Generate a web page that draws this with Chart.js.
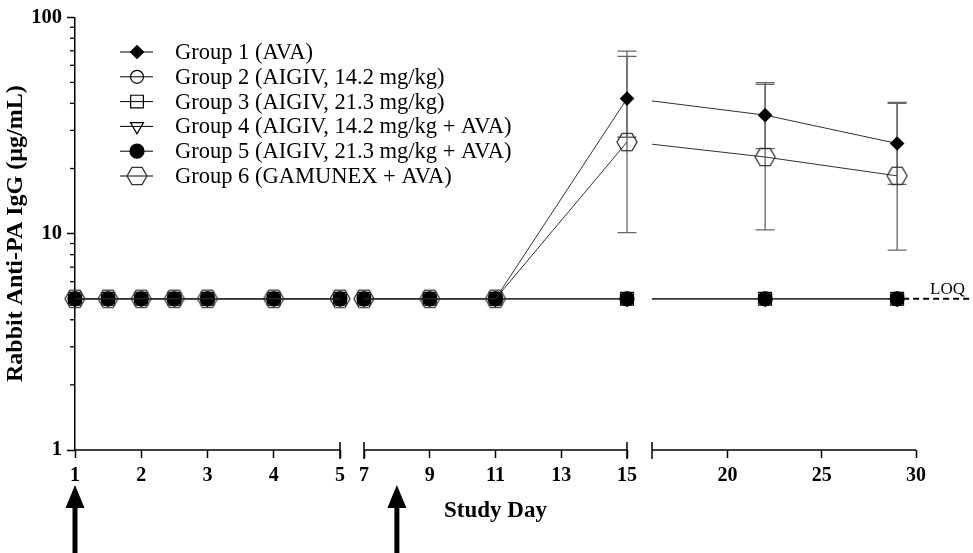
<!DOCTYPE html>
<html><head><meta charset="utf-8">
<script src="https://cdn.jsdelivr.net/npm/chart.js@4.4.1/dist/chart.umd.min.js"></script>
<style>html,body{margin:0;padding:0;background:#fff}</style>
</head><body>
<canvas id="c" width="973" height="553"></canvas>
<script>
// ---------- data ----------
const days   = [1, 1.5, 2, 2.5, 3, 4, 5, 7, 9, 11, 15, 22, 29];
const group1 = [5, 5, 5, 5, 5, 5, 5, 5, 5, 5, 42.1, 35.3, 26.1];
const group2 = [5, 5, 5, 5, 5, 5, 5, 5, 5, 5, 5, 5, 5];
const group3 = [5, 5, 5, 5, 5, 5, 5, 5, 5, 5, 5, 5, 5];
const group4 = [5, 5, 5, 5, 5, 5, 5, 5, 5, 5, 5, 5, 5];
const group5 = [5, 5, 5, 5, 5, 5, 5, 5, 5, 5, 5, 5, 5];
const group6 = [5, 5, 5, 5, 5, 5, 5, 5, 5, 5, 26.5, 22.6, 18.5];
const group1Low  = [null, null, null, null, null, null, null, null, null, null, 27.9, 24.7, 16.9];
const group1High = [null, null, null, null, null, null, null, null, null, null, 66.0, 49.9, 40.4];
const group6Low  = [null, null, null, null, null, null, null, null, null, null, 10.1, 10.4, 8.4];
const group6High = [null, null, null, null, null, null, null, null, null, null, 69.7, 49.0, 40.0];
const groupNames = [
  'Group 1 (AVA)',
  'Group 2 (AIGIV, 14.2 mg/kg)',
  'Group 3 (AIGIV, 21.3 mg/kg)',
  'Group 4 (AIGIV, 14.2 mg/kg + AVA)',
  'Group 5 (AIGIV, 21.3 mg/kg + AVA)',
  'Group 6 (GAMUNEX + AVA)'
];
const segments = [[1, 5], [7, 15], [16, 30]];
const xTicks = [[1, 2, 3, 4, 5], [7, 9, 11, 13, 15], [20, 25, 30]];
const yTicks = [1, 10, 100];
const arrowDays = [1, 8];
const loqValue = 5;
const loqLabel = 'LOQ';
const xTitle = 'Study Day';
const yTitle = 'Rabbit Anti-PA IgG (\u00b5g/mL)';

// ---------- layout (pixels) ----------
const SERIF = "'Liberation Serif', 'Times New Roman', serif";
const segPx = [[75, 340], [364, 627], [652, 916]];
const bounds = [75, 352, 639.5, 930];

function hexCanvas(R, lw, color) {
  const s = 2 * Math.ceil(R + lw + 1);
  const c = document.createElement('canvas');
  c.width = s; c.height = s;
  const g = c.getContext('2d');
  g.strokeStyle = color; g.lineWidth = lw;
  g.beginPath();
  for (let k = 0; k < 6; k++) {
    const a = k * Math.PI / 3;
    const px = s / 2 + R * Math.cos(a), py = s / 2 + R * Math.sin(a);
    if (k) g.lineTo(px, py); else g.moveTo(px, py);
  }
  g.closePath(); g.stroke();
  return c;
}
const hexImg = hexCanvas(10, 1.3, '#333');

const groups = [group1, group2, group3, group4, group5, group6];
const styles = [
  {pointStyle: 'rectRot', radius: 6.5, fill: '#000', rot: 0},
  {pointStyle: 'circle', radius: 6.5, fill: 'rgba(0,0,0,0)', rot: 0},
  {pointStyle: 'rect', radius: 9, fill: 'rgba(0,0,0,0)', rot: 0},
  {pointStyle: 'triangle', radius: 7.5, fill: 'rgba(0,0,0,0)', rot: 180},
  {pointStyle: 'circle', radius: 7, fill: '#000', rot: 0},
  {pointStyle: hexImg, radius: 10, fill: 'rgba(0,0,0,0)', rot: 0}
];
const drawOrder = [5, 4, 2, 3, 1, 0]; // first = on top

const datasets = [];
drawOrder.forEach((g) => {
  segments.forEach((seg, s) => {
    const pts = [];
    days.forEach((d, i) => {
      if (d >= seg[0] && d <= seg[1]) pts.push({x: d, y: groups[g][i]});
    });
    if (s === 2) {
      let prev = -1;
      days.forEach((d, i) => { if (d < seg[0]) prev = i; });
      if (prev >= 0) pts.unshift({x: days[prev], y: groups[g][prev]});
    }
    const st = styles[g];
    datasets.push({
      label: groupNames[g],
      data: pts,
      xAxisID: 'x' + s,
      yAxisID: 'y',
      borderColor: '#333',
      borderWidth: 1,
      pointStyle: st.pointStyle,
      pointRadius: st.radius,
      pointRotation: st.rot,
      pointBackgroundColor: st.fill,
      pointBorderColor: '#000',
      pointBorderWidth: 1.2,
      fill: false,
      tension: 0,
      clip: false,
      segClip: s === 2
    });
  });
});

function segAxis(s) {
  const [a, b] = segments[s];
  const [pa, pb] = segPx[s];
  const ppd = (pb - pa) / (b - a);
  const min = a - (pa - bounds[s]) / ppd;
  const max = b + (bounds[s + 1] - pb) / ppd;
  return {
    type: 'linear',
    position: 'bottom',
    stack: 'xs',
    stackWeight: bounds[s + 1] - bounds[s],
    min, max,
    afterBuildTicks: (sc) => { sc.ticks = xTicks[s].map(v => ({value: v})); },
    afterFit: (sc) => { sc.height = 103; },
    border: {display: false},
    grid: {drawOnChartArea: false, drawTicks: true, tickLength: 8, tickColor: '#000', tickWidth: 1.5},
    ticks: {
      autoSkip: false, maxRotation: 0, padding: 6, color: '#000',
      font: {family: SERIF, size: 20, weight: 'bold'},
      callback: (v) => String(v)
    }
  };
}

function segOf(d) {
  for (let s = 0; s < segments.length; s++) if (d >= segments[s][0] && d <= segments[s][1]) return s;
  return -1;
}

const errorSets = [[group1Low, group1High], [group6Low, group6High]];

const custom = {
  id: 'custom',
  beforeDatasetDraw(chart, args) {
    const ds = chart.data.datasets[args.index];
    if (ds.segClip) {
      const sc = chart.scales[ds.xAxisID];
      const ctx = chart.ctx;
      ctx.save();
      ctx.beginPath();
      ctx.rect(sc.getPixelForValue(segments[2][0]), 0, chart.width, chart.height);
      ctx.clip();
    }
  },
  afterDatasetDraw(chart, args) {
    const ds = chart.data.datasets[args.index];
    if (ds.segClip) chart.ctx.restore();
  },
  beforeDatasetsDraw(chart) {
    const ctx = chart.ctx, y = chart.scales.y;
    const lastDay = days[days.length - 1];
    const s3 = chart.scales['x' + segOf(lastDay)];
    const yl = y.getPixelForValue(loqValue);
    ctx.save();
    ctx.strokeStyle = '#000'; ctx.lineWidth = 2; ctx.setLineDash([6, 4]);
    ctx.beginPath(); ctx.moveTo(s3.getPixelForValue(lastDay) + 6, yl); ctx.lineTo(chart.width, yl); ctx.stroke();
    ctx.restore();
    ctx.save();
    ctx.fillStyle = '#000'; ctx.font = '17px ' + SERIF; ctx.textBaseline = 'alphabetic'; ctx.textAlign = 'left';
    ctx.fillText(loqLabel, 930, yl - 5);
    ctx.restore();
    ctx.save();
    ctx.strokeStyle = '#666'; ctx.lineWidth = 1.3;
    errorSets.forEach(([lo, hi]) => {
      days.forEach((d, i) => {
        if (lo[i] == null || hi[i] == null) return;
        const sc = chart.scales['x' + segOf(d)];
        const x = sc.getPixelForValue(d);
        const y1 = y.getPixelForValue(lo[i]), y2 = y.getPixelForValue(hi[i]);
        ctx.beginPath();
        ctx.moveTo(x, y1); ctx.lineTo(x, y2);
        ctx.moveTo(x - 9.5, y1); ctx.lineTo(x + 9.5, y1);
        ctx.moveTo(x - 9.5, y2); ctx.lineTo(x + 9.5, y2);
        ctx.stroke();
      });
    });
    ctx.restore();
  },
  afterDraw(chart) {
    const ctx = chart.ctx, y = chart.scales.y;
    const base = chart.chartArea.bottom;
    ctx.save();
    ctx.strokeStyle = '#000'; ctx.lineWidth = 1.5;
    segments.forEach((seg, s) => {
      const sc = chart.scales['x' + s];
      const p0 = sc.getPixelForValue(seg[0]), p1 = sc.getPixelForValue(seg[1]);
      ctx.beginPath(); ctx.moveTo(p0, base); ctx.lineTo(p1, base); ctx.stroke();
      ctx.beginPath();
      if (s > 0) { ctx.moveTo(p0, base - 8); ctx.lineTo(p0, base + 9); }
      if (s < segments.length - 1) { ctx.moveTo(p1, base - 8); ctx.lineTo(p1, base + 9); }
      ctx.stroke();
    });
    ctx.lineWidth = 1.3;
    y.ticks.forEach(t => {
      if (yTicks.includes(t.value)) return;
      const py = y.getPixelForValue(t.value);
      ctx.beginPath(); ctx.moveTo(chart.chartArea.left - 5, py); ctx.lineTo(chart.chartArea.left, py); ctx.stroke();
    });
    ctx.restore();
    ctx.save();
    ctx.fillStyle = '#000'; ctx.font = 'bold 23px ' + SERIF; ctx.textAlign = 'center'; ctx.textBaseline = 'middle';
    const xl = chart.scales.x0.getPixelForValue(segments[0][0]);
    const xr = chart.scales.x2.getPixelForValue(segments[2][1]);
    ctx.fillText(xTitle, (xl + xr) / 2, 511);
    ctx.restore();
    ctx.save();
    ctx.fillStyle = '#000';
    arrowDays.forEach(d => {
      const x = chart.scales['x' + Math.max(0, segOf(d))].getPixelForValue(d);
      ctx.beginPath();
      ctx.moveTo(x, 485); ctx.lineTo(x + 9.5, 508); ctx.lineTo(x - 9.5, 508); ctx.closePath(); ctx.fill();
      ctx.fillRect(x - 2.5, 506, 5, chart.height - 506);
    });
    ctx.restore();
    ctx.save();
    const H = Chart.helpers;
    groupNames.forEach((name, g) => {
      const ry = 52 + g * 24.8;
      ctx.strokeStyle = '#000'; ctx.lineWidth = 1;
      ctx.beginPath(); ctx.moveTo(120, ry); ctx.lineTo(153, ry); ctx.stroke();
      const st = styles[g];
      ctx.fillStyle = st.fill; ctx.strokeStyle = '#000'; ctx.lineWidth = 1.2;
      if (H && H.drawPoint) {
        H.drawPoint(ctx, {pointStyle: st.pointStyle, radius: st.radius, rotation: st.rot, borderWidth: 1.2}, 137, ry);
      }
      ctx.fillStyle = '#000'; ctx.font = '22.5px ' + SERIF; ctx.textAlign = 'left'; ctx.textBaseline = 'middle';
      ctx.fillText(name, 175, ry + 1);
    });
    ctx.restore();
  }
};

const scales = {
  y: {
    type: 'logarithmic',
    position: 'left',
    min: 1, max: 100,
    afterBuildTicks: (sc) => {
      const t = [];
      for (let e = 0; e < 2; e++) for (let m = 1; m < 10; m++) t.push(m * Math.pow(10, e));
      t.push(100);
      sc.ticks = t.map(v => ({value: v, major: yTicks.includes(v)}));
    },
    afterFit: (sc) => { sc.width = 75; },
    border: {display: true, color: '#000', width: 1.5},
    grid: {
      drawOnChartArea: false, tickLength: 8, tickWidth: 1.5,
      tickColor: (c) => (c.tick && yTicks.includes(c.tick.value)) ? '#000' : 'rgba(0,0,0,0)'
    },
    ticks: {
      autoSkip: false, padding: 5, color: '#000',
      font: {family: SERIF, size: 20.5, weight: 'bold'},
      callback: (v) => yTicks.includes(v) ? String(v) : ''
    },
    title: {
      display: true, text: yTitle, color: '#000',
      font: {family: SERIF, size: 24, weight: 'bold'},
      padding: {top: 1, bottom: 0}
    }
  }
};
segments.forEach((_, s) => { scales['x' + s] = segAxis(s); });

new Chart(document.getElementById('c'), {
  type: 'line',
  data: {datasets},
  options: {
    responsive: false,
    animation: false,
    devicePixelRatio: 1,
    layout: {padding: {top: 17, right: 973 - 930, bottom: 0, left: 0}},
    plugins: {legend: {display: false}, tooltip: {enabled: false}},
    scales
  },
  plugins: [custom]
});
</script>
</body></html>
